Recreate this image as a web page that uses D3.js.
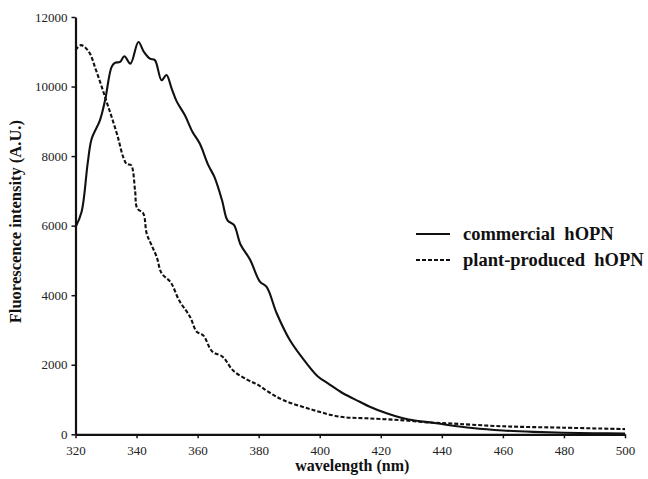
<!DOCTYPE html>
<html>
<head>
<meta charset="utf-8">
<script src="https://cdn.jsdelivr.net/npm/d3@7"></script>
<style>
  html, body { margin: 0; padding: 0; background: #fff; }
  svg { display: block; }
</style>
</head>
<body>
<svg id="chart" width="648" height="479"></svg>
<script>
// fluorescence emission spectra (wavelength nm, intensity A.U.)
const commercialNm = [320, 322, 324, 325.3, 328, 329.7, 331.8, 332.9, 334.6, 336, 338, 340.6, 342.4, 344.4, 346,
  348.2, 349.8, 351.5, 353.1, 355.8, 358.3, 360.7, 363.5, 365.5, 368, 369.8, 371.9, 374.1, 377.2, 380.4, 382.6,
  385.9, 390.2, 395.7, 399.5, 402.7, 407.6, 413.1, 416.4, 421.9, 427.3, 431.7, 437.1, 442, 450, 460, 470, 480, 490, 500];
const commercialVal = [5950, 6400, 7800, 8500, 9030, 9610, 10560, 10680, 10710, 10870, 10660, 11280, 11000, 10800, 10760,
  10180, 10330, 9940, 9580, 9180, 8700, 8360, 7740, 7400, 6730, 6150, 6020, 5450, 5020, 4390, 4240,
  3480, 2710, 2040, 1655, 1465, 1180, 937, 793, 603, 460, 390, 333, 267, 180, 110, 70, 45, 30, 20];

const plantNm = [320, 321.8, 324.4, 326.6, 328.6, 330.2, 332, 333.8, 335.6, 336.8, 338.2, 339.5, 340.2, 342.2,
  343.3, 344.9, 346.6, 348.2, 351.2, 353.9, 357.5, 359.7, 361.8, 364.8, 368.2, 371.7, 376.5, 379.8, 383.1, 388,
  397.8, 406.6, 415.3, 426.2, 437, 442, 460, 480, 500];
const plantVal = [11050, 11190, 11000, 10500, 9990, 9560, 9080, 8570, 7980, 7770, 7740, 7020, 6500, 6350,
  5780, 5440, 5100, 4630, 4370, 3860, 3380, 2950, 2850, 2380, 2230, 1830, 1560, 1420, 1225, 985,
  700, 506, 460, 410, 333, 316, 230, 190, 150];

const xTicks = [320, 340, 360, 380, 400, 420, 440, 460, 480, 500];
const yTicks = [0, 2000, 4000, 6000, 8000, 10000, 12000];
const seriesNames = ["commercial  hOPN", "plant-produced  hOPN"];

const SERIF = "'Liberation Serif', 'Times New Roman', 'DejaVu Serif', serif";

const svg = d3.select("#chart");
const mLeft = 75.5, mRight = 625, mTop = 17, mBottom = 434.3;

const x = d3.scaleLinear().domain([320, 500]).range([mLeft, mRight]);
const y = d3.scaleLinear().domain([0, 12000]).range([mBottom, mTop]);

const line = d3.line()
  .x(d => x(d[0]))
  .y(d => y(d[1]))
  .curve(d3.curveCatmullRom.alpha(0.5));

const commercial = d3.zip(commercialNm, commercialVal);
const plant = d3.zip(plantNm, plantVal);

svg.append("path")
  .datum(plant)
  .attr("d", line)
  .attr("fill", "none")
  .attr("stroke", "#111")
  .attr("stroke-width", 2.1)
  .attr("stroke-dasharray", "4,2");

svg.append("path")
  .datum(commercial)
  .attr("d", line)
  .attr("fill", "none")
  .attr("stroke", "#111")
  .attr("stroke-width", 2.1);

// axes
const xAxis = svg.append("g")
  .attr("transform", `translate(0,${mBottom})`)
  .call(d3.axisBottom(x).tickValues(xTicks).tickSize(4).tickSizeOuter(0).tickPadding(7).tickFormat(d3.format("d")));

const yAxis = svg.append("g")
  .attr("transform", `translate(${mLeft},0)`)
  .call(d3.axisLeft(y).tickValues(yTicks).tickSize(4).tickSizeOuter(0).tickPadding(4).tickFormat(d3.format("d")));

[xAxis, yAxis].forEach(g => {
  g.attr("font-family", SERIF).attr("font-size", 13);
  g.select(".domain").attr("stroke", "#111").attr("stroke-width", 2.2);
  g.selectAll(".tick line").attr("stroke", "#111").attr("stroke-width", 1.5);
  g.selectAll(".tick text").attr("fill", "#222");
});

const title = (sel, size) => sel
  .attr("font-family", SERIF)
  .attr("font-size", size)
  .attr("font-weight", "bold")
  .attr("fill", "#111");

svg.append("text")
  .call(title, 16.5)
  .attr("text-anchor", "middle")
  .attr("transform", `translate(21,${(mTop + mBottom) / 2 - 4}) rotate(-90)`)
  .text("Fluorescence intensity (A.U.)");

svg.append("text")
  .call(title, 16)
  .attr("text-anchor", "middle")
  .attr("x", (mLeft + mRight) / 2 + 2)
  .attr("y", 471)
  .text("wavelength (nm)");

// legend
const legend = svg.append("g").attr("transform", "translate(416,234)");
seriesNames.forEach((name, i) => {
  const row = legend.append("g").attr("transform", `translate(0,${i * 26})`);
  row.append("line")
    .attr("x1", 0).attr("x2", 34)
    .attr("stroke", "#111").attr("stroke-width", 2.1)
    .attr("stroke-dasharray", i === 1 ? "4,2" : null);
  row.append("text")
    .call(title, 18.5)
    .attr("x", 47)
    .attr("dy", "0.3em")
    .style("white-space", "pre")
    .text(name);
});
</script>
</body>
</html>
